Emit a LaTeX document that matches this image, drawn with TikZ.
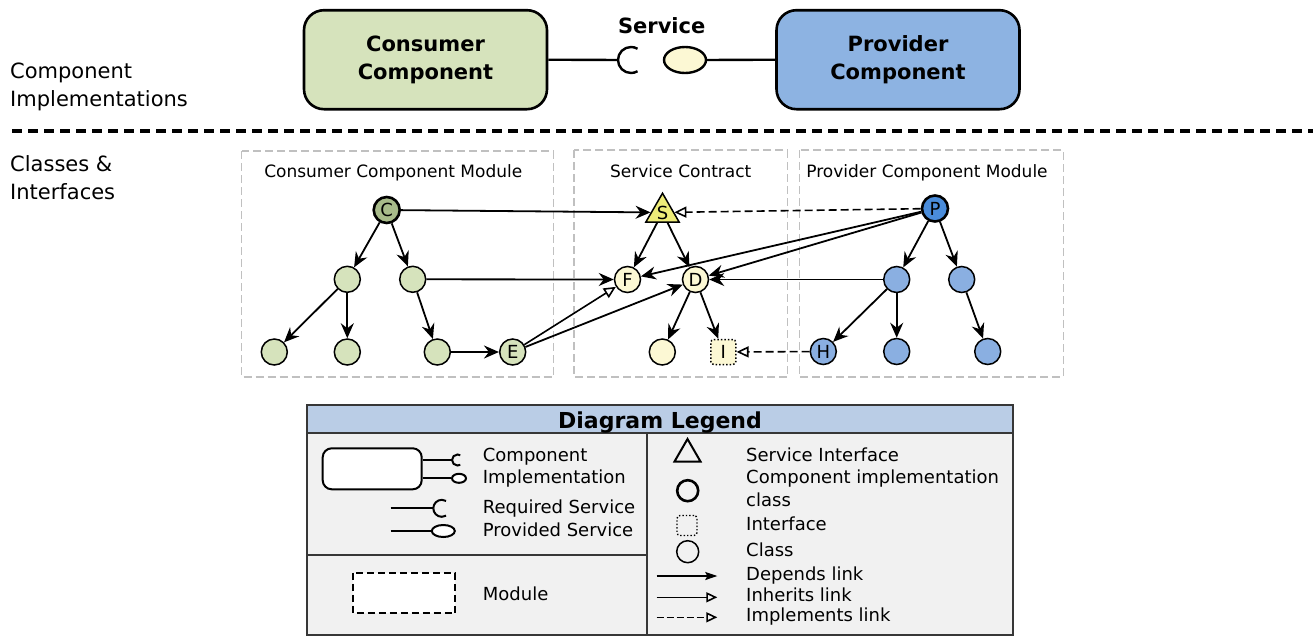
\documentclass[tikz,border=0pt]{standalone}
\usepackage{fontspec}
\setmainfont{DejaVu Sans}
\usetikzlibrary{arrows.meta,shapes.geometric}
\definecolor{consfill}{RGB}{214,227,188}
\definecolor{consdark}{RGB}{168,187,138}
\definecolor{provfill}{RGB}{138,175,225}
\definecolor{provdark}{RGB}{74,140,218}
\definecolor{provbox}{RGB}{141,179,226}
\definecolor{svcfill}{RGB}{252,248,212}
\definecolor{ifacefill}{RGB}{238,236,120}
\definecolor{legbar}{RGB}{186,205,230}
\definecolor{legbody}{RGB}{241,241,241}
\definecolor{legline}{RGB}{55,55,55}
\definecolor{modline}{RGB}{192,192,192}

\begin{document}
\begin{tikzpicture}[x=1pt,y=-1pt,
  side/.style={align=left,inner sep=0pt,font=\fontsize{21}{27.5}\selectfont},
  comp/.style={draw,rounded corners=20pt,line width=2.6pt,minimum width=243pt,minimum height=99pt,align=center,font=\fontsize{21}{28}\selectfont\bfseries},
  conn/.style={line width=2.4pt},
  modbox/.style={draw=modline,line width=1.5pt,dash pattern=on 8pt off 4pt},
  modlabel/.style={inner sep=0pt,font=\fontsize{17}{20}\selectfont},
  cnode/.style={circle,draw,line width=1.5pt,minimum size=26pt,inner sep=0pt,font=\fontsize{18}{20}\selectfont},
  dep/.style={line width=1.8pt,-{Stealth[length=15pt,width=13pt,inset=5pt]}},
  inh/.style={line width=1.6pt,-{Triangle[open,length=12pt,width=11pt]}},
  impl/.style={inh,dash pattern=on 8pt off 4pt},
  legtext/.style={inner sep=0pt,anchor=base west,font=\fontsize{18}{21}\selectfont}]

\useasboundingbox (0,0) rectangle (1313,637);

\node[side,anchor=west] (top) at (10,87) {Component\\Implementations};
\node[side,anchor=west] (bottom) at (10,177.5) {Classes \&\\Interfaces};
\draw[line width=4pt,dash pattern=on 10pt off 6pt] (12,131) -- (1313,131);

\node[comp,fill=consfill] (cons) at (425.5,59.7) {Consumer\\Component};
\node[comp,fill=provbox] (prov) at (898,59.7) {Provider\\Component};
\node[inner sep=0pt,anchor=base,font=\fontsize{21}{25}\selectfont\bfseries] (svc) at (661.7,33.3) {Service};
\coordinate (req) at (618,60);
\node[ellipse,draw,line width=2.4pt,fill=svcfill,minimum width=42pt,minimum height=26pt,inner sep=0pt] (ball) at (685,60) {};
\draw[conn] (cons.east) -- (req);
\draw[conn] (req) arc[start angle=180,end angle=60,radius=13pt];
\draw[conn] (req) arc[start angle=180,end angle=300,radius=13pt];
\draw[conn] (ball.east) -- (prov.west);

\draw[modbox] (241.7,151) rectangle (553.3,377);
\draw[modbox] (574,150) rectangle (787.7,377);
\draw[modbox] (799.3,150) rectangle (1063.3,377);
\node[modlabel,anchor=base] (m1) at (393.3,177.5) {Consumer Component Module};
\node[modlabel,anchor=base] (m2) at (680.7,177.5) {Service Contract};
\node[modlabel,anchor=base] (m3) at (927,177.5) {Provider Component Module};

\node[cnode,fill=consdark,line width=2.6pt] (C) at (386.7,210) {C};
\node[cnode,fill=consfill] (c1) at (347.3,279.3) {};
\node[cnode,fill=consfill] (c2) at (412.7,279.3) {};
\node[cnode,fill=consfill] (c3) at (274.3,352) {};
\node[cnode,fill=consfill] (c4) at (347.3,352) {};
\node[cnode,fill=consfill] (c5) at (437.3,352) {};
\node[cnode,fill=consfill] (E) at (512.7,352) {E};

\node[regular polygon,regular polygon sides=3,draw,line width=1.5pt,fill=ifacefill,minimum size=37pt,inner sep=0pt,font=\fontsize{18}{20}\selectfont] (S) at (662.5,212.5) {S};
\node[cnode,fill=svcfill] (F) at (627.5,279.5) {F};
\node[cnode,fill=svcfill] (D) at (695.5,279.5) {D};
\node[cnode,fill=svcfill] (s1) at (662.3,352) {};
\node[cnode,rectangle,rounded corners=3pt,dotted,minimum size=25pt,fill=svcfill] (I) at (723.3,352) {I};

\node[cnode,fill=provdark,line width=2.6pt] (P) at (935,208.5) {P};
\node[cnode,fill=provfill] (p1) at (896.7,279.5) {};
\node[cnode,fill=provfill] (p2) at (961.7,279.5) {};
\node[cnode,fill=provfill] (H) at (823.3,351.5) {H};
\node[cnode,fill=provfill] (p3) at (896.7,351.5) {};
\node[cnode,fill=provfill] (p4) at (987.7,351.5) {};

\draw[dep] (C) -- (S);
\draw[dep] (C) -- (c1);
\draw[dep] (C) -- (c2);
\draw[dep] (c1) -- (c3);
\draw[dep] (c1) -- (c4);
\draw[dep] (c2) -- (c5);
\draw[dep] (c5) -- (E);
\draw[dep] (c2) -- (F);
\draw[inh] (E) -- (F);
\draw[dep] (E) -- (D);
\draw[dep] (S) -- (F);
\draw[dep] (S) -- (D);
\draw[dep] (D) -- (s1);
\draw[dep] (D) -- (I);
\draw[impl] (P) -- (S);
\draw[dep] (P) -- (F);
\draw[dep] (P) -- (D);
\draw[dep] (P) -- (p1);
\draw[dep] (P) -- (p2);
\draw[dep] (p1) -- (D);
\draw[dep] (p1) -- (H);
\draw[dep] (p1) -- (p3);
\draw[dep] (p2) -- (p4);
\draw[impl] (H) -- (I);

\draw[draw=legline,line width=2pt,fill=legbody] (307,405) rectangle (1013,635);
\draw[draw=legline,line width=2pt,fill=legbar] (307,405) rectangle (1013,433);
\draw[draw=legline,line width=1.6pt] (646.7,433) -- (646.7,635);
\draw[draw=legline,line width=1.6pt] (307,555) -- (646.7,555);
\node[inner sep=0pt,anchor=base,font=\fontsize{22}{26}\selectfont\bfseries] (legtitle) at (660,428.3) {Diagram Legend};

\node[draw,rounded corners=9pt,line width=2pt,fill=white,minimum width=99pt,minimum height=41pt] (lcomp) at (372.2,468.8) {};
\coordinate (lreq) at (452,460);
\node[ellipse,draw,line width=2pt,fill=white,minimum width=14pt,minimum height=9pt,inner sep=0pt] (lball) at (459,478.3) {};
\draw[line width=2pt] (lcomp.east |- lreq) -- (lreq);
\draw[line width=2pt] (lreq) arc[start angle=180,end angle=60,radius=5.5pt];
\draw[line width=2pt] (lreq) arc[start angle=180,end angle=300,radius=5.5pt];
\draw[line width=2pt] (lcomp.east |- lball) -- (lball.west);
\node[legtext] (t1) at (482.7,461.7) {Component};
\node[legtext] (t2) at (482.7,483.3) {Implementation};

\coordinate (r0) at (390.7,508.3);
\coordinate (r1) at (433.3,508.3);
\draw[line width=2pt] (r0) -- (r1);
\draw[line width=2pt] (r1) arc[start angle=180,end angle=60,radius=8.5pt];
\draw[line width=2pt] (r1) arc[start angle=180,end angle=300,radius=8.5pt];
\coordinate (q0) at (390.7,531);
\node[ellipse,draw,line width=2pt,fill=white,minimum width=23pt,minimum height=12pt,inner sep=0pt] (qball) at (443.3,531) {};
\draw[line width=2pt] (q0) -- (qball.west);
\node[legtext] (t3) at (482.7,513.3) {Required Service};
\node[legtext] (t4) at (482.7,536.7) {Provided Service};

\draw[line width=2pt,dash pattern=on 7pt off 4pt,fill=white] (353.3,572.7) rectangle (455,613.3);
\node[legtext,anchor=west] (t5) at (482.7,593.3) {Module};

\node[regular polygon,regular polygon sides=3,draw,line width=2pt,minimum size=30pt,inner sep=0pt] (ltri) at (687.5,454) {};
\node[circle,draw,line width=2.6pt,minimum size=21pt,inner sep=0pt] (lcirc) at (687.7,490.7) {};
\node[rectangle,rounded corners=3pt,draw,dotted,line width=1.4pt,minimum size=20pt,inner sep=0pt] (lsq) at (687,525.5) {};
\node[circle,draw,line width=1.5pt,minimum size=22pt,inner sep=0pt] (lcls) at (687.7,551.7) {};
\coordinate (d0) at (656.7,576);
\coordinate (d1) at (717.3,576);
\coordinate (i0) at (656.7,597.3);
\coordinate (i1) at (717.3,597.3);
\coordinate (k0) at (656.7,617.3);
\coordinate (k1) at (717.3,617.3);
\draw[line width=1.6pt,-{Stealth[length=12pt,width=8pt,inset=2pt]}] (d0) -- (d1);
\draw[line width=1.6pt,-{Triangle[open,length=11pt,width=10pt]}] (i0) -- (i1);
\draw[line width=1.6pt,dash pattern=on 7pt off 3pt,-{Triangle[open,length=11pt,width=10pt]}] (k0) -- (k1);
\node[legtext] (u1) at (746,461.7) {Service Interface};
\node[legtext] (u2) at (746,483.3) {Component implementation};
\node[legtext] (u3) at (746,506.7) {class};
\node[legtext] (u4) at (746,530.7) {Interface};
\node[legtext] (u5) at (746,556.7) {Class};
\node[legtext] (u6) at (746,580) {Depends link};
\node[legtext] (u7) at (746,601.7) {Inherits link};
\node[legtext] (u8) at (746,621.7) {Implements link};

\end{tikzpicture}
\end{document}
